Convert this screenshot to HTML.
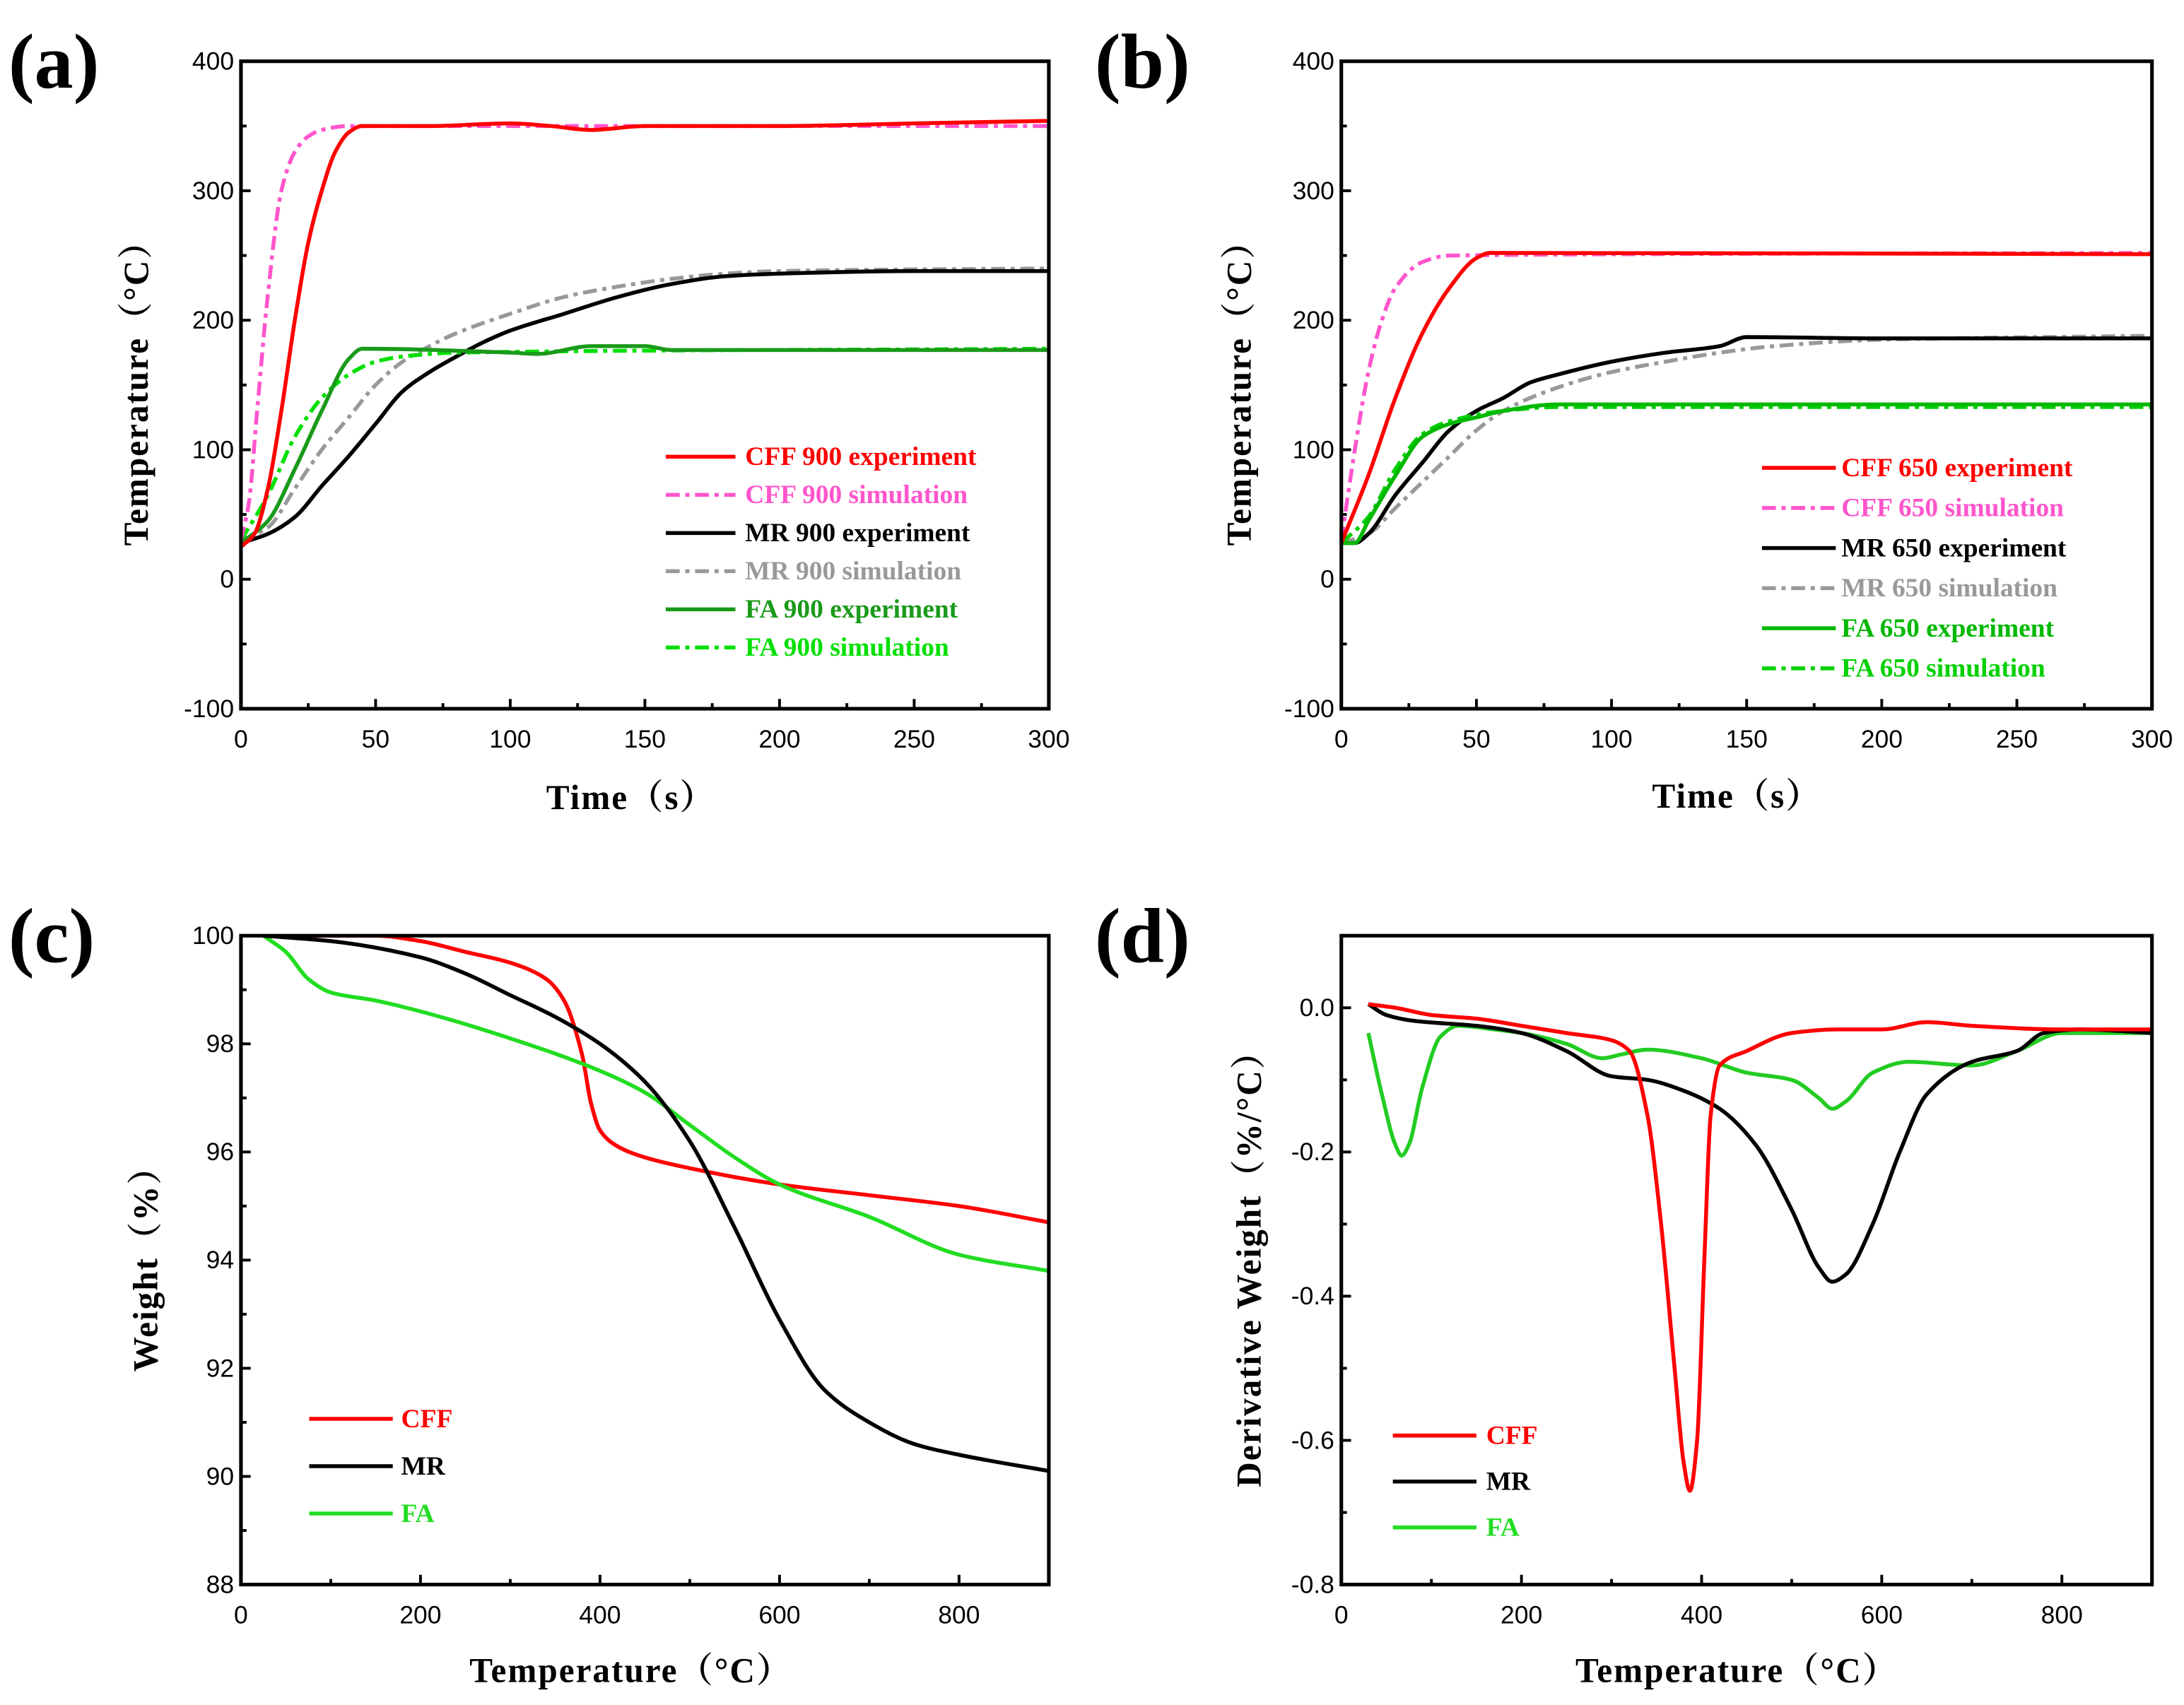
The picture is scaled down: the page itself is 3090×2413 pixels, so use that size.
<!DOCTYPE html>
<html><head><meta charset="utf-8">
<style>
html,body{margin:0;padding:0;background:#fff;}
svg{display:block;}
.tk{font-family:"Liberation Sans",sans-serif;font-size:18px;fill:#000;}
.ti{font-family:"Liberation Serif","Noto Serif CJK SC",serif;font-weight:bold;font-size:25px;fill:#000;letter-spacing:1px;}
.pl{font-family:"Liberation Serif",serif;font-weight:bold;font-size:56px;fill:#000;}
.lg{font-family:"Liberation Serif",serif;font-weight:bold;font-size:19px;}
</style></head>
<body>
<svg id="fig" width="3090" height="2413" viewBox="0 0 1568 1224.5" preserveAspectRatio="none" xmlns="http://www.w3.org/2000/svg"></svg>
<script>
// ---- data ----
const aCffExpX=[0,5,10,15,20,25,30,35,40,45,70,100,115,130,150,200,250,300];
const aCffExpY=[25,35,70,130,200,260,300,330,345,350,350,352,350,347,350,350,352,354];
const aCffSimX=[0,3,6,10,15,20,25,30,40,300];
const aCffSimY=[30,60,130,220,300,330,342,347,350,350];
const aMrExpX=[0,10,20,30,40,50,60,70,80,90,100,120,140,160,180,200,250,300];
const aMrExpY=[28,35,48,72,95,120,145,160,172,183,192,205,218,228,234,236,238,238];
const aMrSimX=[0,10,20,30,40,50,60,70,80,100,120,140,160,180,200,300];
const aMrSimY=[30,40,70,100,125,150,168,180,190,205,218,226,232,236,238,240];
const aFaExpX=[0,10,20,30,40,45,100,110,130,150,160,300];
const aFaExpY=[28,45,85,130,170,178,175,174,180,180,177,177];
const aFaSimX=[0,10,20,30,40,50,60,80,300];
const aFaSimY=[30,65,110,140,158,168,172,175,178];

const bCffExpX=[0,10,20,30,40,50,55,300];
const bCffExpY=[28,80,140,190,225,248,252,251];
const bCffSimX=[0,5,10,15,20,30,40,300];
const bCffSimY=[30,100,160,200,225,245,250,252];
const bMrExpX=[0,5,10,20,30,40,50,60,70,80,100,120,140,150,200,300];
const bMrExpY=[28,28,35,65,90,115,130,140,152,158,168,175,180,187,186,186];
const bMrSimX=[0,10,20,30,40,50,60,80,100,120,140,160,200,300];
const bMrSimY=[28,35,55,75,95,115,130,148,160,168,175,180,185,188];
const bFaExpX=[0,5,10,20,30,40,50,60,80,300];
const bFaExpY=[28,28,45,80,110,120,125,130,135,135];
const bFaSimX=[0,10,20,30,40,60,80,300];
const bFaSimY=[28,48,85,112,122,130,133,133];

const cCffX=[25,150,200,250,300,340,360,380,390,400,420,450,500,600,700,800,900];
const cCffY=[100,100,99.9,99.7,99.5,99.2,98.8,97.8,96.9,96.4,96.1,95.9,95.7,95.4,95.2,95.0,94.7];
const cMrX=[25,100,200,250,300,350,400,450,500,550,600,650,700,750,800,900];
const cMrY=[100,99.9,99.6,99.3,98.9,98.5,98.0,97.3,96.2,94.6,92.9,91.6,91.0,90.6,90.4,90.1];
const cFaX=[25,50,75,100,150,200,300,400,450,500,550,600,700,800,900];
const cFaY=[100,99.7,99.2,98.95,98.8,98.6,98.1,97.5,97.1,96.5,95.9,95.4,94.8,94.1,93.8];

const dCffX=[30,60,100,150,200,250,300,320,340,355,370,380,387,395,403,410,420,450,500,550,600,650,700,800,900];
const dCffY=[0.005,0,-0.01,-0.015,-0.025,-0.035,-0.045,-0.06,-0.15,-0.3,-0.5,-0.63,-0.67,-0.6,-0.35,-0.15,-0.08,-0.06,-0.035,-0.03,-0.03,-0.02,-0.025,-0.03,-0.03];
const dMrX=[30,50,80,150,200,250,300,340,380,420,460,500,530,545,560,590,620,650,700,750,780,820,900];
const dMrY=[0.005,-0.01,-0.018,-0.025,-0.035,-0.06,-0.095,-0.1,-0.115,-0.14,-0.19,-0.28,-0.36,-0.38,-0.37,-0.3,-0.2,-0.12,-0.075,-0.06,-0.035,-0.03,-0.035];
const dFaX=[30,45,60,67,75,90,110,130,170,200,250,290,310,340,400,450,500,530,545,560,590,630,700,750,800,900];
const dFaY=[-0.035,-0.12,-0.19,-0.205,-0.19,-0.11,-0.04,-0.025,-0.03,-0.035,-0.05,-0.07,-0.065,-0.058,-0.07,-0.09,-0.1,-0.125,-0.14,-0.13,-0.09,-0.075,-0.08,-0.06,-0.035,-0.035];

const tempTicks=[-100,0,100,200,300,400];
const timeTicks=[0,50,100,150,200,250,300];
const wTicks=[88,90,92,94,96,98,100];
const tTicks=[0,200,400,600,800];
const dTicks=[-0.8,-0.6,-0.4,-0.2,0.0];

// ---- drawing ----
const NS="http://www.w3.org/2000/svg";
const svg=document.getElementById('fig');
function mk(tag,attrs,parent){const e=document.createElementNS(NS,tag);for(const k in attrs)e.setAttribute(k,attrs[k]);(parent||svg).appendChild(e);return e;}

// monotone cubic (Fritsch-Carlson) in pixel space, x increasing
function monoPath(pts){
  const n=pts.length;
  const dx=[],m=[];
  for(let i=0;i<n-1;i++){dx[i]=pts[i+1][0]-pts[i][0];m[i]=(pts[i+1][1]-pts[i][1])/dx[i];}
  const t=[];
  t[0]=m[0];t[n-1]=m[n-2];
  for(let i=1;i<n-1;i++){
    if(m[i-1]*m[i]<=0)t[i]=0;
    else{const w1=2*dx[i]+dx[i-1],w2=dx[i]+2*dx[i-1];t[i]=(w1+w2)/(w1/m[i-1]+w2/m[i]);}
  }
  let d='M'+pts[0][0].toFixed(2)+','+pts[0][1].toFixed(2);
  for(let i=0;i<n-1;i++){
    const h=dx[i]/3;
    d+='C'+(pts[i][0]+h).toFixed(2)+','+(pts[i][1]+t[i]*h).toFixed(2)+' '+(pts[i+1][0]-h).toFixed(2)+','+(pts[i+1][1]-t[i+1]*h).toFixed(2)+' '+pts[i+1][0].toFixed(2)+','+pts[i+1][1].toFixed(2);
  }
  return d;
}

function panel(id,box,xr,yr,xt,yt,xfmt,yfmt){
  const g=mk('g',{});
  
  
  const sx=v=>box.l+(v-xr[0])/(xr[1]-xr[0])*(box.r-box.l);
  const sy=v=>box.b-(v-yr[0])/(yr[1]-yr[0])*(box.b-box.t);
  const ax=mk('g',{},g);
  
  
  xt.forEach(v=>{const x=sx(v);mk('line',{x1:x,x2:x,y1:box.b,y2:box.b-7,stroke:'#000','stroke-width':2},ax);
    const t=mk('text',{x:x,y:box.b+28,'text-anchor':'middle',class:'tk'},ax);t.textContent=xfmt(v);
    
    });
  for(let i=0;i<xt.length-1;i++){const x=sx((xt[i]+xt[i+1])/2);mk('line',{x1:x,x2:x,y1:box.b,y2:box.b-4,stroke:'#000','stroke-width':2},ax);}
  yt.forEach(v=>{const y=sy(v);mk('line',{x1:box.l,x2:box.l+7,y1:y,y2:y,stroke:'#000','stroke-width':2},ax);
    const t=mk('text',{x:box.l-5,y:y+6,'text-anchor':'end',class:'tk'},ax);t.textContent=yfmt(v);
    
    });
  for(let i=0;i<yt.length-1;i++){const y=sy((yt[i]+yt[i+1])/2);mk('line',{x1:box.l,x2:box.l+4,y1:y,y2:y,stroke:'#000','stroke-width':2},ax);}
  const cp=mk('clipPath',{id:'cp'+id},g);mk('rect',{x:box.l,y:box.t,width:box.r-box.l,height:box.b-box.t},cp);
  const sg=mk('g',{'clip-path':'url(#cp'+id+')'},g);
  function series(name,X,Y,color,dash,w){
    const pts=X.map((x,i)=>[sx(x),sy(Y[i])]);
    const p=mk('path',{d:monoPath(pts),fill:'none',stroke:color,'stroke-width':w||2.8,'stroke-linejoin':'round'},sg);
    if(dash)p.setAttribute('stroke-dasharray',dash);
    
    
  }
  mk('rect',{x:box.l,y:box.t,width:box.r-box.l,height:box.b-box.t,fill:'none',stroke:'#000','stroke-width':2.6},g);
  return {g,series};
}
function text(name,x,y,str,cls,fill,rot){
  const t=mk('text',{x:x,y:y,class:cls});t.textContent=str;
  if(fill)t.style.fill=fill;
  if(rot!==undefined){t.setAttribute('transform','rotate(-90 '+x+' '+y+')');t.setAttribute('text-anchor','middle');}
  
  
  return t;
}
function legend(name,x1,x2,tx,y,label,color,dash){
  const g=mk('g',{});
  
  
  const l=mk('line',{x1:x1,x2:x2,y1:y,y2:y,stroke:color,'stroke-width':2.8},g);
  if(dash)l.setAttribute('stroke-dasharray',dash);
  const t=mk('text',{x:tx,y:y+6,class:'lg',fill:color},g);t.textContent=label;
}
const DD='10,4,3,4';
const i0=v=>String(v);
// (a)
let P=panel('a',{l:173,r:753,t:44,b:509},[0,300],[-100,400],timeTicks,tempTicks,i0,i0);
P.series('mr-900-sim',aMrSimX,aMrSimY,'#999',DD);
P.series('mr-900-exp',aMrExpX,aMrExpY,'#000');
P.series('fa-900-sim',aFaSimX,aFaSimY,'#00e000',DD);
P.series('fa-900-exp',aFaExpX,aFaExpY,'#1a9a1a');
P.series('cff-900-sim',aCffSimX,aCffSimY,'#ff55cc',DD);
P.series('cff-900-exp',aCffExpX,aCffExpY,'#ff0000');
// (b)
P=panel('b',{l:963,r:1545,t:44,b:509},[0,300],[-100,400],timeTicks,tempTicks,i0,i0);
P.series('mr-650-sim',bMrSimX,bMrSimY,'#999',DD);
P.series('mr-650-exp',bMrExpX,bMrExpY,'#000');
P.series('fa-650-sim',bFaSimX,bFaSimY,'#00d000',DD);
P.series('fa-650-exp',bFaExpX,bFaExpY,'#00b800');
P.series('cff-650-sim',bCffSimX,bCffSimY,'#ff55cc',DD);
P.series('cff-650-exp',bCffExpX,bCffExpY,'#ff0000');
// (c)
P=panel('c',{l:173,r:753,t:672,b:1138},[0,900],[88,100],tTicks,wTicks,i0,i0);
P.series('cff-weight',cCffX,cCffY,'#ff0000');
P.series('fa-weight',cFaX,cFaY,'#22dd22');
P.series('mr-weight',cMrX,cMrY,'#000');
// (d)
P=panel('d',{l:963,r:1545,t:672,b:1138},[0,900],[-0.8,0.1],tTicks,dTicks,i0,v=>v.toFixed(1));
P.series('fa-derivative',dFaX,dFaY,'#22cc22');
P.series('mr-derivative',dMrX,dMrY,'#000');
P.series('cff-derivative',dCffX,dCffY,'#ff0000');

// panel labels
text('panel-label-a',6,63,'(a)','pl');
text('panel-label-b',786,63,'(b)','pl');
text('panel-label-c',6,691,'(c)','pl');
text('panel-label-d',786,691,'(d)','pl');
// axis titles
let t;
t=text('x-axis-title-a',453,581,'Time（s）','ti');t.setAttribute('text-anchor','middle');
t=text('x-axis-title-b',1247,580,'Time（s）','ti');t.setAttribute('text-anchor','middle');
t=text('x-axis-title-c',453,1208,'Temperature（°C）','ti');t.setAttribute('text-anchor','middle');
t=text('x-axis-title-d',1247,1208,'Temperature（°C）','ti');t.setAttribute('text-anchor','middle');
text('y-axis-title-a',106,276,'Temperature（°C）','ti','#000',1);
text('y-axis-title-b',898,276,'Temperature（°C）','ti','#000',1);
text('y-axis-title-c',113,905,'Weight（%）','ti','#000',1);
text('y-axis-title-d',905,905,'Derivative Weight（%/°C）','ti','#000',1);
// legends
const la=[['CFF 900 experiment','#ff0000',null],['CFF 900 simulation','#ff55cc',DD],['MR 900 experiment','#000',null],['MR 900 simulation','#999',DD],['FA 900 experiment','#1a9a1a',null],['FA 900 simulation','#00e000',DD]];
la.forEach((e,i)=>legend('legend-a-entry',478,528,535,328+i*27.4,e[0],e[1],e[2]));
const lb=[['CFF 650 experiment','#ff0000',null],['CFF 650 simulation','#ff55cc',DD],['MR 650 experiment','#000',null],['MR 650 simulation','#999',DD],['FA 650 experiment','#00b800',null],['FA 650 simulation','#00d000',DD]];
lb.forEach((e,i)=>legend('legend-b-entry',1265,1318,1322,336+i*28.8,e[0],e[1],e[2]));
const lc=[['CFF','#ff0000'],['MR','#000'],['FA','#22dd22']];
lc.forEach((e,i)=>legend('legend-c-entry',222,282,288,1019+i*34,e[0],e[1]));
lc.forEach((e,i)=>legend('legend-d-entry',1000,1060,1067,1031+i*33,e[0],e[1]));
</script>
</body></html>
